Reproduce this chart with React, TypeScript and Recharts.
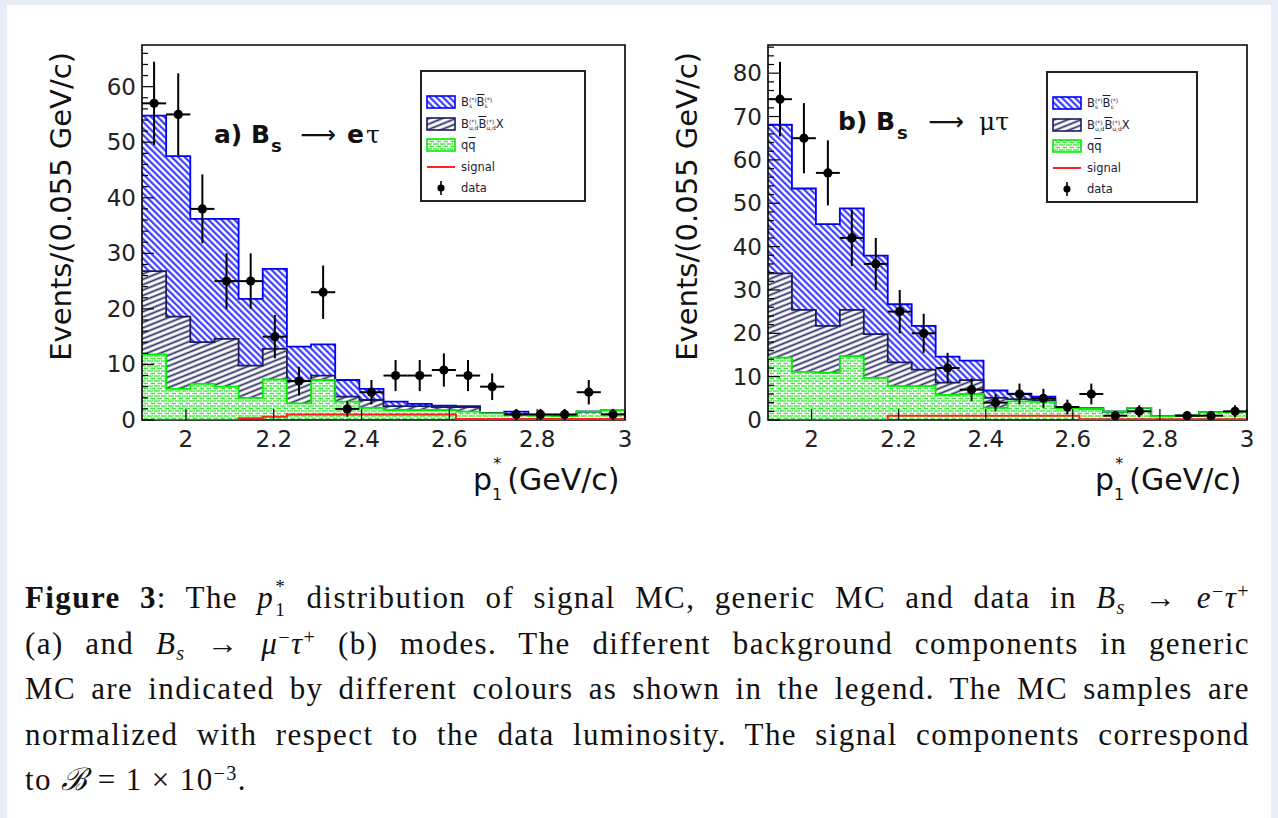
import React from 'react';
import {
  ComposedChart,
  Area,
  Line,
  Scatter,
  ErrorBar,
  XAxis,
  YAxis,
  ReferenceArea,
  Legend,
  Label,
} from 'recharts';

// ---------- categories (bin edges, GeV/c) ----------
const binEdges = [1.9, 1.955, 2.01, 2.065, 2.12, 2.175, 2.23, 2.285, 2.34, 2.395, 2.45, 2.505, 2.56, 2.615, 2.67, 2.725, 2.78, 2.835, 2.89, 2.945, 3.0];
const halfBinWidth = 0.0275;

// ---------- tick labels ----------
const xTicks = [2, 2.2, 2.4, 2.6, 2.8, 3];
const xTickLabels = ['2', '2.2', '2.4', '2.6', '2.8', '3'];
const yTicksETau = [0, 2, 4, 6, 8, 10, 12, 14, 16, 18, 20, 22, 24, 26, 28, 30, 32, 34, 36, 38, 40, 42, 44, 46, 48, 50, 52, 54, 56, 58, 60, 62, 64, 66];
const yTicksMuTau = [0, 2, 4, 6, 8, 10, 12, 14, 16, 18, 20, 22, 24, 26, 28, 30, 32, 34, 36, 38, 40, 42, 44, 46, 48, 50, 52, 54, 56, 58, 60, 62, 64, 66, 68, 70, 72, 74, 76, 78, 80, 82, 84, 86];
const yMajorETau = [0, 10, 20, 30, 40, 50, 60];
const yMajorMuTau = [0, 10, 20, 30, 40, 50, 60, 70, 80];

// ---------- (a) Bs -> e tau ----------
const eTauQQ = [11.8, 5.6, 6.5, 6.0, 4.0, 7.3, 3.0, 7.2, 3.3, 2.2, 1.8, 1.8, 1.8, 1.5, 1.2, 0.9, 0.8, 0.7, 1.5, 1.8];
const eTauBuBd = [15.0, 13.0, 7.5, 8.6, 5.8, 5.5, 4.0, 0.8, 0.9, 1.4, 0.7, 0.7, 0.5, 0.8, 0.1, 0.1, 0.1, 0.1, 0.0, 0.0];
const eTauBsBs = [28.0, 28.9, 22.2, 21.6, 12.0, 14.4, 6.2, 5.6, 3.0, 2.0, 0.8, 0.4, 0.3, 0.2, 0.0, 0.5, 0.0, 0.0, 0.0, 0.0];
const eTauSignal = [0, 0, 0, 0, 0.3, 0.6, 1.0, 1.0, 1.0, 1.0, 1.0, 1.0, 1.0, 0.2, 0.2, 0.2, 0.2, 0.2, 0.2, 0.2];
const eTauData = [57, 55, 38, 25, 25, 15, 7, 23, 2, 5, 8, 8, 9, 8, 6, 1, 1, 1, 5, 1];
const eTauErr = [7.5, 7.4, 6.2, 5.0, 5.0, 3.9, 2.6, 4.8, 1.4, 2.2, 2.8, 2.8, 3.0, 2.8, 2.4, 1.0, 1.0, 1.0, 2.2, 1.0];

// ---------- (b) Bs -> mu tau ----------
const muTauQQ = [14.4, 11.1, 10.9, 14.7, 9.7, 7.8, 7.8, 5.8, 6.0, 2.8, 4.3, 4.2, 2.7, 2.6, 1.9, 2.8, 0.9, 1.0, 1.8, 1.8];
const muTauBuBd = [19.4, 14.3, 10.8, 10.7, 10.1, 5.5, 3.8, 2.8, 3.2, 2.3, 0.5, 0.4, 0.1, 0.1, 0, 0, 0, 0, 0, 0];
const muTauBsBs = [34.3, 28.0, 23.5, 23.4, 18.1, 13.4, 10.1, 6.0, 4.5, 1.7, 1.3, 0.8, 0, 0, 0, 0, 0, 0, 0, 0];
const muTauSignal = [0, 0, 0, 0, 0, 1.0, 1.0, 1.0, 1.0, 1.0, 1.0, 1.0, 1.0, 0.15, 0.15, 0.15, 0.15, 0.15, 0.15, 0.15];
const muTauData = [74, 65, 57, 42, 36, 25, 20, 12, 7, 4, 6, 5, 3, 6, 1, 2, null, 1, 1, 2];
const muTauErr = [8.6, 8.1, 7.5, 6.5, 6.0, 5.0, 4.5, 3.5, 2.6, 2.0, 2.4, 2.2, 1.7, 2.4, 1.0, 1.4, null, 1.0, 1.0, 1.4];

type Row = { x: number; qq: number; bubd: number; bs: number; sig: number };

function buildHist(qq: number[], bubd: number[], bs: number[], sig: number[]): Row[] {
  return binEdges.map((x, i) => {
    const j = Math.min(i, qq.length - 1);
    return { x, qq: qq[j], bubd: bubd[j], bs: bs[j], sig: sig[j] };
  });
}

function buildPoints(counts: (number | null)[], errs: (number | null)[]) {
  const pts: { x: number; y: number; ey: number; ex: number }[] = [];
  counts.forEach((c, i) => {
    if (c == null) return;
    pts.push({ x: (binEdges[i] + binEdges[i + 1]) / 2, y: c, ey: errs[i] as number, ex: halfBinWidth });
  });
  return pts;
}

const SANS = '"DejaVu Sans", "Liberation Sans", sans-serif';

const XTick = (props: any) => {
  const { x, y, payload } = props;
  const idx = xTicks.findIndex((t) => Math.abs(t - payload.value) < 1e-6);
  return (
    <g>
      <line x1={x} x2={x} y1={y} y2={y - 11} stroke="#000" strokeWidth={1.2} />
      <text x={x} y={y + 27} textAnchor="middle" fontFamily={SANS} fontSize={23} fill="#222">
        {idx >= 0 ? xTickLabels[idx] : ''}
      </text>
    </g>
  );
};

const makeYTick = (majors: number[]) => (props: any) => {
  const { x, y, payload } = props;
  const major = majors.includes(payload.value);
  return (
    <g>
      <line x1={x} x2={x + (major ? 12 : 6)} y1={y} y2={y} stroke="#000" strokeWidth={1.2} />
      {major && (
        <text x={x - 6} y={y + 8} textAnchor="end" fontFamily={SANS} fontSize={23} fill="#222">
          {payload.value}
        </text>
      )}
    </g>
  );
};

const Swatch = ({ fill, stroke }: { fill: string; stroke: string }) => (
  <svg width={30} height={14} style={{ display: 'block' }}>
    <rect x={1} y={1} width={28} height={12} fill={fill} stroke={stroke} strokeWidth={1.6} />
  </svg>
);

const Stk = ({ top, bot }: { top: string; bot: string }) => (
  <span style={{ display: 'inline-flex', flexDirection: 'column', fontSize: 6, lineHeight: '6px', verticalAlign: 'middle' }}>
    <span>{top}</span>
    <span>{bot}</span>
  </span>
);

const LegendBox = ({ pid, width }: { pid: string; width: number }) => {
  const rows: [number, React.ReactNode, React.ReactNode][] = [
    [32, <Swatch fill={`url(#${pid}-bs)`} stroke="#0000ff" />, <span>B<Stk top="(*)" bot="s" /><span style={{ textDecoration: 'overline' }}>B</span><Stk top="(*)" bot="s" /></span>],
    [54, <Swatch fill={`url(#${pid}-bubd)`} stroke="#1c1c5c" />, <span>B<Stk top="(*)" bot="u,d" /><span style={{ textDecoration: 'overline' }}>B</span><Stk top="(*)" bot="u,d" />X</span>],
    [75, <Swatch fill={`url(#${pid}-qq)`} stroke="#00ee00" />, <span>q<span style={{ textDecoration: 'overline' }}>q</span></span>],
    [97, <svg width={30} height={14} style={{ display: 'block' }}><line x1={1} x2={29} y1={7} y2={7} stroke="#ff2020" strokeWidth={2} /></svg>, <span>signal</span>],
    [118, <svg width={30} height={14} style={{ display: 'block' }}><line x1={15} x2={15} y1={0} y2={14} stroke="#000" strokeWidth={1.6} /><circle cx={15} cy={7} r={3.6} fill="#000" /></svg>, <span>data</span>],
  ];
  return (
    <div
      style={{
        width,
        height: 132,
        border: '2px solid #222',
        boxSizing: 'border-box',
        background: '#fff',
        position: 'relative',
        fontFamily: SANS,
        fontSize: 11.5,
        color: '#1b1b3a',
      }}
    >
      {rows.map(([cy, sw, txt], i) => (
        <div key={i} style={{ position: 'absolute', left: 4, top: cy - 9, height: 14, display: 'flex', alignItems: 'center' }}>
          {sw}
          <span style={{ marginLeft: 5, whiteSpace: 'nowrap' }}>{txt}</span>
        </div>
      ))}
    </div>
  );
};

type PanelProps = {
  pid: string;
  left: number;
  plotWidth: number;
  yMax: number;
  yTicks: number[];
  yMajors: number[];
  hist: Row[];
  points: { x: number; y: number; ey: number; ex: number }[];
  legendWidth: number;
  legendTop: number;
};

const Panel = ({ pid, left, plotWidth, yMax, yTicks, yMajors, hist, points, legendWidth, legendTop }: PanelProps) => {
  const yAxisW = 142;
  const width = yAxisW + plotWidth + 10;
  const YTick = makeYTick(yMajors);
  return (
    <div style={{ position: 'absolute', left, top: 0 }}>
      <ComposedChart width={width} height={520} data={hist} margin={{ top: 45, right: 10, bottom: 40, left: 0 }}>
        <defs>
          <pattern id={`${pid}-bs`} patternUnits="userSpaceOnUse" width="4.6" height="4.6" patternTransform="rotate(-45)">
            <rect width="4.6" height="4.6" fill="#ffffff" />
            <line x1="1.2" y1="0" x2="1.2" y2="4.6" stroke="#2a2aff" strokeWidth="2" />
          </pattern>
          <pattern id={`${pid}-bubd`} patternUnits="userSpaceOnUse" width="8" height="5" patternTransform="rotate(-22)">
            <rect width="8" height="5" fill="#ffffff" />
            <line x1="0" y1="2.5" x2="8" y2="2.5" stroke="#2b2b66" strokeWidth="1.8" />
          </pattern>
          <pattern id={`${pid}-qq`} patternUnits="userSpaceOnUse" width="7" height="5">
            <rect width="7" height="5" fill="#ffffff" />
            <line x1="0" y1="1" x2="4.5" y2="1" stroke="#33ee33" strokeWidth="1.4" />
            <line x1="3.5" y1="3.5" x2="7" y2="3.5" stroke="#33ee33" strokeWidth="1.4" />
            <line x1="0" y1="3.5" x2="1" y2="3.5" stroke="#33ee33" strokeWidth="1.4" />
            <line x1="5.5" y1="0" x2="4.8" y2="2.2" stroke="#33ee33" strokeWidth="1" />
          </pattern>
        </defs>
        <XAxis
          type="number"
          dataKey="x"
          domain={[1.9, 3]}
          ticks={xTicks}
          interval={0}
          allowDataOverflow
          tickSize={0}
          tickMargin={0}
          axisLine={false}
          tickLine={false}
          tick={<XTick />}
          height={60}
        >
          <Label
            content={(p: any) => {
              const vb = p.viewBox || { x: yAxisW, y: 420, width: plotWidth };
              const xr = vb.x + vb.width - 152;
              const base = vb.y + 70;
              return (
                <text x={xr} y={base} fontFamily={SANS} fontSize={30} fill="#111">
                  p
                  <tspan dy={10} fontSize={16}>1</tspan>
                  <tspan dx={-9} dy={-31} fontSize={16}>*</tspan>
                  <tspan dx={6} dy={21}>(GeV/c)</tspan>
                </text>
              );
            }}
          />
        </XAxis>
        <YAxis
          type="number"
          domain={[0, yMax]}
          ticks={yTicks}
          interval={0}
          allowDataOverflow
          width={yAxisW}
          tickSize={0}
          tickMargin={0}
          axisLine={false}
          tickLine={false}
          tick={<YTick />}
        >
          <Label
            content={(p: any) => {
              const vb = p.viewBox || { x: 0, y: 45 };
              const tx = vb.x + 71;
              const ty = vb.y + 7;
              return (
                <text
                  x={tx}
                  y={ty}
                  transform={`rotate(-90, ${tx}, ${ty})`}
                  textAnchor="end"
                  fontFamily={SANS}
                  fontSize={29}
                  fill="#111"
                >
                  Events/(0.055 GeV/c)
                </text>
              );
            }}
          />
        </YAxis>
        <Area type="stepAfter" dataKey="qq" stackId="mc" stroke="none" fill={`url(#${pid}-qq)`} fillOpacity={1} isAnimationActive={false} />
        <Area type="stepAfter" dataKey="bubd" stackId="mc" stroke="none" fill={`url(#${pid}-bubd)`} fillOpacity={1} isAnimationActive={false} />
        <Area type="stepAfter" dataKey="bs" stackId="mc" stroke="none" fill={`url(#${pid}-bs)`} fillOpacity={1} isAnimationActive={false} />
        <Line type="stepAfter" dataKey={(d: Row) => d.qq + d.bubd + d.bs} stroke="#0000ff" strokeWidth={1.8} dot={false} isAnimationActive={false} legendType="none" />
        <Line type="stepAfter" dataKey={(d: Row) => d.qq + d.bubd} stroke="#1c1c5c" strokeWidth={1.8} dot={false} isAnimationActive={false} legendType="none" />
        <Line type="stepAfter" dataKey="qq" stroke="#00ee00" strokeWidth={1.8} dot={false} isAnimationActive={false} legendType="none" />
        <Line type="stepAfter" dataKey="sig" stroke="#ff2020" strokeWidth={2} dot={false} isAnimationActive={false} legendType="none" />
        <Scatter
          data={points}
          dataKey="y"
          fill="#000"
          isAnimationActive={false}
          shape={(p: any) => <circle cx={p.cx} cy={p.cy} r={4.6} fill="#000" />}
        >
          <ErrorBar dataKey="ey" direction="y" width={0} stroke="#000" strokeWidth={2} />
          <ErrorBar dataKey="ex" direction="x" width={0} stroke="#000" strokeWidth={2} />
        </Scatter>
        <ReferenceArea x1={1.9} x2={3} y1={0} y2={yMax} fill="none" stroke="#000" strokeWidth={1.6} ifOverflow="visible" />
        <Legend
          layout="horizontal"
          verticalAlign="middle"
          align="center"
          wrapperStyle={{ left: 420, top: legendTop, width: legendWidth, height: 132 }}
          content={() => <LegendBox pid={pid} width={legendWidth} />}
        />
      </ComposedChart>
    </div>
  );
};

const PStar = () => (
  <span>
    <i>p</i>
    <span style={{ display: 'inline-block', position: 'relative', width: '0.42em', height: '0.7em' }}>
      <span style={{ position: 'absolute', left: '0.05em', top: '-0.5em', fontSize: '0.62em', lineHeight: 1 }}>*</span>
      <span style={{ position: 'absolute', left: '0.05em', top: '0.72em', fontSize: '0.62em', lineHeight: 1 }}>1</span>
    </span>
  </span>
);

const lineStyle: React.CSSProperties = {
  height: 45.5,
  lineHeight: '45.5px',
  textAlign: 'justify',
  textAlignLast: 'justify' as any,
};

const sub: React.CSSProperties = { fontSize: '0.65em', verticalAlign: '-0.3em', lineHeight: 0 };
const sup: React.CSSProperties = { fontSize: '0.65em', verticalAlign: '0.5em', lineHeight: 0 };

export default function App() {
  const histA = buildHist(eTauQQ, eTauBuBd, eTauBsBs, eTauSignal);
  const histB = buildHist(muTauQQ, muTauBuBd, muTauBsBs, muTauSignal);
  const ptsA = buildPoints(eTauData, eTauErr);
  const ptsB = buildPoints(muTauData, muTauErr);

  return (
    <div style={{ position: 'absolute', left: 0, top: 0, width: 1278, height: 818, background: '#e7edf5', overflow: 'hidden' }}>
      <div style={{ position: 'absolute', left: 7, top: 5, width: 1264, height: 813, background: '#ffffff' }} />
      <Panel
        pid="etau"
        left={0}
        plotWidth={483}
        yMax={67.5}
        yTicks={yTicksETau}
        yMajors={yMajorETau}
        hist={histA}
        points={ptsA}
        legendWidth={166}
        legendTop={70}
      />
      <Panel
        pid="mutau"
        left={626}
        plotWidth={479}
        yMax={86.5}
        yTicks={yTicksMuTau}
        yMajors={yMajorMuTau}
        hist={histB}
        points={ptsB}
        legendWidth={152}
        legendTop={71}
      />
      <svg width={1278} height={200} style={{ position: 'absolute', left: 0, top: 0, pointerEvents: 'none' }}>
        <text y={143} fontFamily={SANS} fill="#111" fontSize={25} fontWeight="bold">
          <tspan x={214}>a) B</tspan>
          <tspan x={271} dy={9} fontSize={18}>s</tspan>
          <tspan x={300} dy={-9} fontSize={25} fontWeight="normal">⟶</tspan>
          <tspan x={347}>e</tspan>
          <tspan x={366} fontWeight="normal" fontFamily='"DejaVu Serif", serif'>τ</tspan>
        </text>
        <text y={130} fontFamily={SANS} fill="#111" fontSize={25} fontWeight="bold">
          <tspan x={838}>b) B</tspan>
          <tspan x={897} dy={9} fontSize={18}>s</tspan>
          <tspan x={928} dy={-9} fontSize={25} fontWeight="normal">⟶</tspan>
          <tspan x={979} fontWeight="normal" fontFamily='"DejaVu Serif", serif'>μτ</tspan>
        </text>
      </svg>
      <div
        style={{
          position: 'absolute',
          left: 25,
          top: 575,
          width: 1225,
          fontFamily: '"Liberation Serif", "Times New Roman", serif',
          fontSize: 31,
          letterSpacing: '1.4px',
          color: '#111',
        }}
      >
        <div style={lineStyle}>
          <b>Figure 3</b>: The <PStar /> distribution of signal MC, generic MC and data in <i>B</i><span style={sub}><i>s</i></span> → <i>e</i><span style={sup}>−</span><i>τ</i><span style={sup}>+</span>
        </div>
        <div style={lineStyle}>
          (a) and <i>B</i><span style={sub}><i>s</i></span> → <i>μ</i><span style={sup}>−</span><i>τ</i><span style={sup}>+</span> (b) modes. The different background components in generic
        </div>
        <div style={lineStyle}>MC are indicated by different colours as shown in the legend. The MC samples are</div>
        <div style={lineStyle}>normalized with respect to the data luminosity. The signal components correspond</div>
        <div style={{ height: 45.5, lineHeight: '45.5px' }}>
          to <i>ℬ</i> = 1 × 10<span style={sup}>−3</span>.
        </div>
      </div>
    </div>
  );
}
